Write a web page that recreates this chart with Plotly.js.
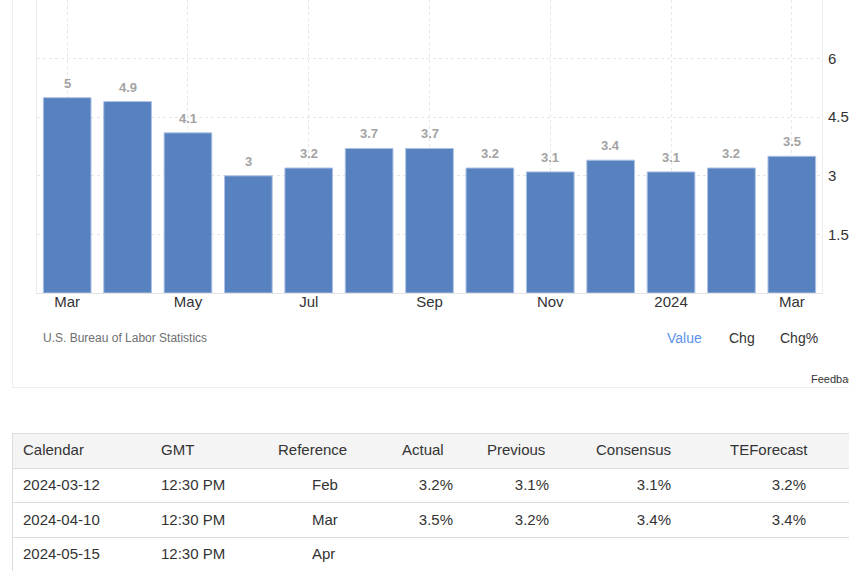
<!DOCTYPE html>
<html>
<head>
<meta charset="utf-8">
<script src="https://cdn.plot.ly/plotly-3.0.1.min.js"></script>
<style>
  html, body { margin: 0; padding: 0; background: #fff; width: 849px; height: 571px; overflow: hidden; font-family: Arial, "Liberation Sans", sans-serif; }
  #box { position: absolute; left: 12px; top: -1px; width: 900px; height: 388px; border-left: 1px solid #eeeeee; border-bottom: 1px solid #eeeeee; }
  #chart { position: absolute; left: 0; top: 0; width: 849px; height: 395px; }
  .t { position: absolute; white-space: nowrap; line-height: 1; }
  #table { position: absolute; left: 12px; top: 433px; width: 900px; height: 140px; border-top: 1px solid #dcdcdc; border-left: 1px solid #dcdcdc; }
  #thead { position: absolute; left: 0; top: 0; width: 900px; height: 34px; background: #f4f4f4; border-bottom: 1px solid #dcdcdc; }
  .row { position: absolute; left: 0; width: 900px; border-bottom: 1px solid #dcdcdc; }
</style>
</head>
<body>
<div id="box"></div>
<div id="chart"></div>
<div id="source" class="t" style="left:43px; top:332px; font-size:12px; color:#6f6f6f;"></div>
<div id="btns"></div>
<div class="t" style="left:811px; top:374px; font-size:11px; color:#333;">Feedback</div>
<div id="table"><div id="thead"></div></div>
<div id="cells"></div>
<script>
// ---- chart data ----
var periods = ['2023-03','2023-04','2023-05','2023-06','2023-07','2023-08','2023-09','2023-10','2023-11','2023-12','2024-01','2024-02','2024-03'];
var values = [5, 4.9, 4.1, 3, 3.2, 3.7, 3.7, 3.2, 3.1, 3.4, 3.1, 3.2, 3.5];
var tickPeriods = ['2023-03','2023-05','2023-07','2023-09','2023-11','2024-01','2024-03'];
var tickLabels = ['Mar','May','Jul','Sep','Nov','2024','Mar'];
var yTicks = [1.5, 3, 4.5, 6];
var sourceText = 'U.S. Bureau of Labor Statistics';
var buttonLabels = ['Value', 'Chg', 'Chg%'];

// ---- table data ----
var tableHeaders = ['Calendar', 'GMT', 'Reference', 'Actual', 'Previous', 'Consensus', 'TEForecast'];
var calendarDates = ['2024-03-12', '2024-04-10', '2024-05-15'];
var gmtTimes = ['12:30 PM', '12:30 PM', '12:30 PM'];
var referencePeriods = ['Feb', 'Mar', 'Apr'];
var actualVals = ['3.2%', '3.5%', ''];
var previousVals = ['3.1%', '3.2%', ''];
var consensusVals = ['3.1%', '3.4%', ''];
var teForecastVals = ['3.2%', '3.4%', ''];

var FONT = 'Arial, "Liberation Sans", sans-serif';

var annotations = periods.map(function (p, i) {
  return {
    x: p, y: values[i], xref: 'x', yref: 'y',
    text: String(values[i]), showarrow: false,
    yanchor: 'middle', yshift: 14.5,
    font: { family: FONT, size: 13, color: '#a3a3a3', weight: 'bold' }
  };
});

Plotly.newPlot('chart', [{
  type: 'bar',
  x: periods,
  y: values,
  marker: { color: 'rgb(87,129,191)', line: { color: '#aec3e4', width: 1 } },
  hoverinfo: 'none'
}], {
  width: 849, height: 395,
  margin: { l: 37, r: 27, t: 0, b: 102, pad: 0 },
  paper_bgcolor: 'rgba(0,0,0,0)',
  plot_bgcolor: 'rgba(0,0,0,0)',
  bargap: 0.21,
  showlegend: false,
  font: { family: FONT, size: 15, color: '#333' },
  xaxis: {
    type: 'category',
    range: [-0.5, 12.5],
    tickmode: 'array', tickvals: tickPeriods, ticktext: tickLabels,
    ticks: '', showgrid: true, gridcolor: '#e6e6e6', griddash: 'dot',
    showline: true, linecolor: '#e4e4e4', linewidth: 1, mirror: true,
    zeroline: false, fixedrange: true, ticklabelstandoff: -5,
    tickfont: { family: FONT, size: 15, color: '#333' }
  },
  yaxis: {
    side: 'right',
    range: [0, 7.5],
    tickmode: 'array', tickvals: yTicks, ticktext: yTicks.map(String),
    ticks: '', showgrid: true, gridcolor: '#e6e6e6', griddash: 'dot',
    showline: true, linecolor: '#ececec', linewidth: 1, mirror: true,
    zeroline: false, fixedrange: true, ticklabelstandoff: 2,
    tickfont: { family: FONT, size: 15, color: '#333' }
  },
  annotations: annotations
}, { staticPlot: true, displayModeBar: false });

// ---- source & buttons ----
document.getElementById('source').textContent = sourceText;
var btnX = [667, 729, 780];
var btnColors = ['#5b93ee', '#333', '#333'];
var btnHtml = '';
buttonLabels.forEach(function (b, i) {
  btnHtml += '<div class="t" style="left:' + btnX[i] + 'px; top:331px; font-size:14px; color:' + btnColors[i] + ';">' + b + '</div>';
});
document.getElementById('btns').innerHTML = btnHtml;

// ---- table ----
var headerLeft = [23, 161, 278, 402, 487, 596, 730];
// value columns: [align, position]
var colSpec = [['l', 23], ['l', 161], ['l', 312], ['r', 453], ['r', 549], ['r', 671], ['r', 806]];
var columns = [calendarDates, gmtTimes, referencePeriods, actualVals, previousVals, consensusVals, teForecastVals];
var rowCenters = [485, 520, 554];
var rowLines = [502, 537];

var html = '';
tableHeaders.forEach(function (h, i) {
  html += '<div class="t" style="left:' + headerLeft[i] + 'px; top:' + (450 - 8) + 'px; font-size:15px; color:#333;">' + h + '</div>';
});
columns.forEach(function (col, c) {
  col.forEach(function (v, r) {
    if (!v) return;
    var top = rowCenters[r] - 8;
    var style = colSpec[c][0] === 'l'
      ? 'left:' + colSpec[c][1] + 'px;'
      : 'right:' + (849 - colSpec[c][1]) + 'px;';
    html += '<div class="t" style="' + style + ' top:' + top + 'px; font-size:15px; color:#333;">' + v + '</div>';
  });
});
document.getElementById('cells').innerHTML = html;

var tbl = document.getElementById('table');
rowLines.forEach(function (y) {
  var d = document.createElement('div');
  d.className = 'row';
  d.style.top = (y - 433 - 1) + 'px';
  d.style.height = '0px';
  tbl.appendChild(d);
});
</script>
</body>
</html>
